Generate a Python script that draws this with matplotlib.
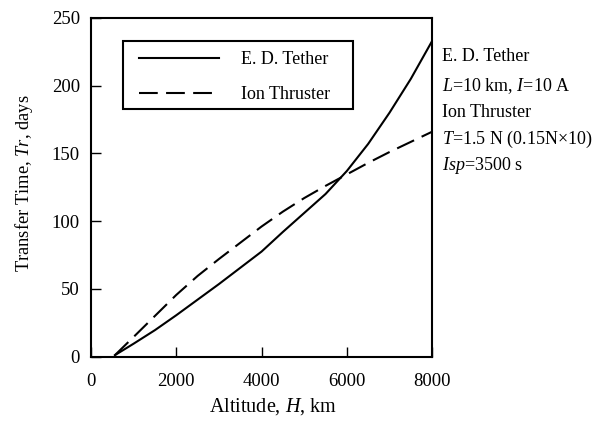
import matplotlib
matplotlib.use('Agg')
import matplotlib.pyplot as plt
from matplotlib.patches import Rectangle

plt.rcParams['font.family'] = ['Liberation Serif', 'DejaVu Serif']
plt.rcParams['mathtext.fontset'] = 'custom'
plt.rcParams['mathtext.rm'] = 'Liberation Serif'
plt.rcParams['mathtext.it'] = 'Liberation Serif:italic'

# altitude (km) and transfer time (days)
altitude = [560, 1000, 1500, 2000, 2500, 3000, 3500, 4000, 4500, 5000,
            5500, 6000, 6500, 7000, 7500, 8000]
tether_days = [1, 9.5, 19.5, 30.5, 42, 53.5, 65.5, 77.5, 92, 106,
               120, 137, 157, 180, 205, 233]
ion_days = [1, 14.5, 30, 45.5, 59.5, 72, 84, 96, 107, 117,
            126, 134.5, 143, 151, 158.5, 166]

notes = ['E. D. Tether', '$L$=10 km, $I$=10 A', 'Ion Thruster',
         '$T$=1.5 N (0.15N\u00d710)', '$Isp$=3500 s']

fig = plt.figure(figsize=(6.08, 4.28), dpi=100)
ax = fig.add_axes([0.1497, 0.167, 0.561, 0.791])

ax.plot(altitude, tether_days, color='black', lw=1.5, label='E. D. Tether')
ax.plot(altitude, ion_days, color='black', lw=1.5, dashes=(9, 4),
        label='Ion Thruster')

ax.set_xlim(0, 8000)
ax.set_ylim(0, 250)
ax.set_xticks([0, 2000, 4000, 6000, 8000])
ax.set_yticks([0, 50, 100, 150, 200, 250])
ax.tick_params(direction='in', length=7, width=1, labelsize=13.5,
               top=False, right=False)
ax.tick_params(axis='x', pad=12)
ax.tick_params(axis='y', pad=8)
for s in ax.spines.values():
    s.set_linewidth(1.5)

ax.set_xlabel('Altitude, $H$, km', fontsize=14.5)
ax.xaxis.set_label_coords(0.534, -0.118)
ax.set_ylabel('Transfer Time, $Tr$, days', fontsize=13.3)
ax.yaxis.set_label_coords(-0.165, 0.511)

# legend entries without its own frame; box drawn separately
leg = ax.legend(loc='upper left', bbox_to_anchor=(0.1173, 0.926),
                fontsize=13, frameon=False, borderpad=0.44,
                handlelength=4.43, handletextpad=1.22, labelspacing=0.99,
                borderaxespad=0)
ax.add_patch(Rectangle((0.0938, 0.731), 0.674, 0.201, transform=ax.transAxes,
                       fill=False, edgecolor='black', lw=1.5, zorder=5))

ys = [57, 86, 113, 139, 166]
for txt, ypx in zip(notes, ys):
    ax.text(1.029, (356.5 - ypx) / 338.5, txt, transform=ax.transAxes,
            fontsize=13, va='center', ha='left', clip_on=False)

fig.savefig('out.png', dpi=100)
